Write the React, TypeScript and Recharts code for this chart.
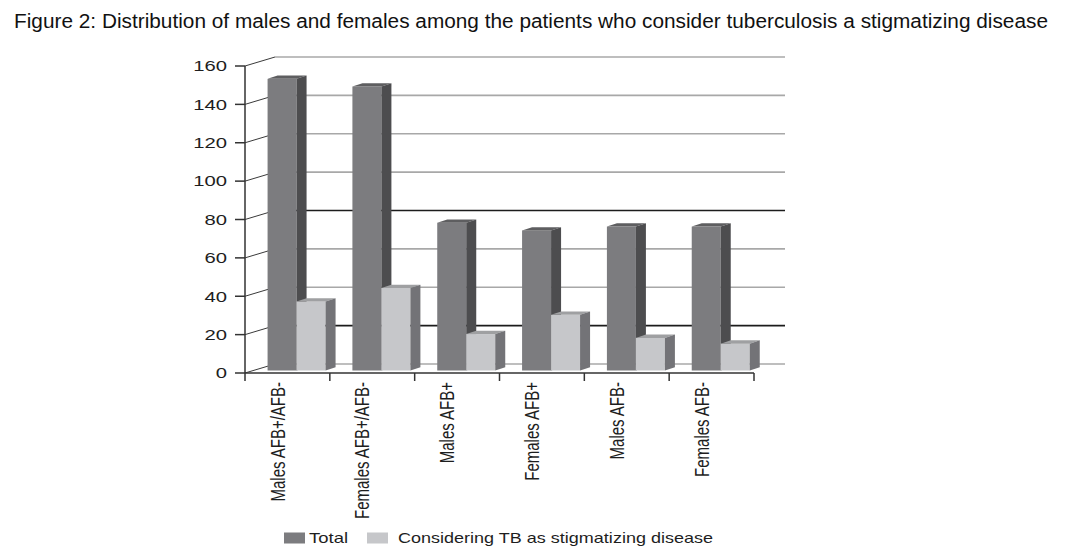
import React from 'react';
import { BarChart, Bar, XAxis, YAxis, CartesianGrid, Legend } from 'recharts';

const CATEGORIES = ['Males AFB+/AFB-', 'Females AFB+/AFB-', 'Males AFB+', 'Females AFB+', 'Males AFB-', 'Females AFB-'];
const TOTAL = [152, 148, 77, 73, 75, 75];
const STIGMA = [36, 43, 19, 29, 17, 14];
const Y_TICKS = [0, 20, 40, 60, 80, 100, 120, 140, 160];
const DARK_GRID = [20, 80];
const SERIES_NAMES = ['Total', 'Considering TB as stigmatizing disease'];

const TITLE = 'Figure 2: Distribution of males and females among the patients who consider tuberculosis a stigmatizing disease';

const data = CATEGORIES.map((name, i) => ({ name, total: TOTAL[i], stigma: STIGMA[i] }));

// 3d look: wall depth and bar depth
const WALL_DX = 30;
const WALL_DY = 9;
const BAR_DX = 9;
const BAR_DY = 2.5;
const DEPTH_X = 10;
const DEPTH_Y = 3.3;

const DARK = { front: '#7c7c7f', side: '#4d4d4f', top: '#5e5e60' };
const LIGHT = { front: '#c6c7ca', side: '#737377', top: '#9fa0a2' };

const FONT = '"Liberation Sans", Arial, sans-serif';

const Bar3D = (props: any) => {
  const { x, y, width, height, colors } = props;
  if (width == null || height == null) return null;
  const fx = x + BAR_DX;
  const fy = y - BAR_DY;
  const w = width;
  const h = height;
  return (
    <g>
      <rect x={fx} y={fy} width={w} height={h} fill={colors.front} />
      <polygon
        points={`${fx},${fy} ${fx + DEPTH_X},${fy - DEPTH_Y} ${fx + w + DEPTH_X},${fy - DEPTH_Y} ${fx + w},${fy}`}
        fill={colors.top}
      />
      <polygon
        points={`${fx + w},${fy} ${fx + w + DEPTH_X},${fy - DEPTH_Y} ${fx + w + DEPTH_X},${fy + h - DEPTH_Y} ${fx + w},${fy + h}`}
        fill={colors.side}
      />
    </g>
  );
};

const gridLine = (props: any) => {
  const { x1, y1, x2, index } = props;
  const value = Y_TICKS[index];
  const dark = DARK_GRID.includes(value);
  return (
    <g key={`grid-${index}`}>
      <line x1={x1} y1={y1} x2={x1 + WALL_DX} y2={y1 - WALL_DY} stroke="#3a3a3a" strokeWidth={1} />
      <line
        x1={x1 + WALL_DX}
        y1={y1 - WALL_DY}
        x2={x2 + WALL_DX + 1}
        y2={y1 - WALL_DY}
        stroke={dark ? '#1c1c1c' : '#a8a8a8'}
        strokeWidth={1.6}
      />
    </g>
  );
};

const YTick = (props: any) => {
  const { x, y, payload } = props;
  return (
    <text
      transform={`translate(${x},${y}) scale(1.35,1)`}
      textAnchor="end"
      dy="0.35em"
      fontSize={15}
      fontFamily={FONT}
      fill="#1e1e1e"
    >
      {payload.value}
    </text>
  );
};

// category label plus the tick marks on the category boundaries
const XTick = (props: any) => {
  const { x, y, payload, index } = props;
  const half = payload.offset || 0;
  return (
    <g>
      {index === 0 && <line x1={x - half} y1={y - 8} x2={x - half} y2={y} stroke="#333" strokeWidth={1.5} />}
      <line x1={x + half} y1={y - 8} x2={x + half} y2={y} stroke="#333" strokeWidth={1.5} />
      <text
        transform={`translate(${x - 10},${y + 1}) scale(1.35,1) rotate(-90)`}
        textAnchor="end"
        dy="0.35em"
        fontSize={15}
        fontFamily={FONT}
        fill="#1e1e1e"
      >
        {payload.value}
      </text>
    </g>
  );
};

const LEGEND_X = [284, 367];
const LEGEND_TEXT_X = [309, 398];
const LEGEND_W = [39, 315];

const renderLegend = (props: any) => {
  const { payload } = props;
  return (
    <svg width={1081} height={24}>
      {(payload || []).map((item: any) => {
        const i = SERIES_NAMES.indexOf(item.value);
        return (
          <g key={item.value}>
            <rect x={LEGEND_X[i]} y={6.5} width={21} height={11} fill={item.color} />
            <text
              x={LEGEND_TEXT_X[i]}
              y={12}
              dy="0.35em"
              fontSize={15}
              fontFamily={FONT}
              fill="#1e1e1e"
              textLength={LEGEND_W[i]}
              lengthAdjust="spacingAndGlyphs"
            >
              {item.value}
            </text>
          </g>
        );
      })}
    </svg>
  );
};

export default function App() {
  return (
    <div style={{ position: 'absolute', left: 0, top: 0, width: 1081, height: 554, background: '#fff' }}>
      <svg width={1081} height={40} style={{ position: 'absolute', left: 0, top: 0 }}>
        <text
          x={14}
          y={28}
          fontSize={20}
          fontFamily={FONT}
          fill="#111"
          textLength={1034}
          lengthAdjust="spacingAndGlyphs"
        >
          {TITLE}
        </text>
      </svg>
      <BarChart
        width={1081}
        height={554}
        data={data}
        margin={{ top: 66, right: 327, left: 0, bottom: 7 }}
        barCategoryGap="16%"
        barGap={0}
      >
        <CartesianGrid vertical={false} horizontal={gridLine} syncWithTicks />
        <XAxis
          dataKey="name"
          height={150}
          tickLine={false}
          tickSize={8}
          tickMargin={0}
          axisLine={{ stroke: '#333', strokeWidth: 1.5 }}
          tick={<XTick />}
          interval={0}
        />
        <YAxis
          width={245}
          domain={[0, 160]}
          ticks={Y_TICKS}
          tickSize={10}
          tickMargin={8}
          axisLine={{ stroke: '#333', strokeWidth: 1.5 }}
          tickLine={{ stroke: '#333', strokeWidth: 1.5 }}
          tick={<YTick />}
          interval={0}
        />
        <Legend verticalAlign="bottom" content={renderLegend} wrapperStyle={{ left: 0, top: 526, width: 1081, height: 24 }} />
        <Bar dataKey="total" name={SERIES_NAMES[0]} fill={DARK.front} isAnimationActive={false} shape={(p: any) => <Bar3D {...p} colors={DARK} />} />
        <Bar
          dataKey="stigma"
          name={SERIES_NAMES[1]}
          fill={LIGHT.front}
          isAnimationActive={false}
          shape={(p: any) => <Bar3D {...p} colors={LIGHT} />}
        />
      </BarChart>
    </div>
  );
}
